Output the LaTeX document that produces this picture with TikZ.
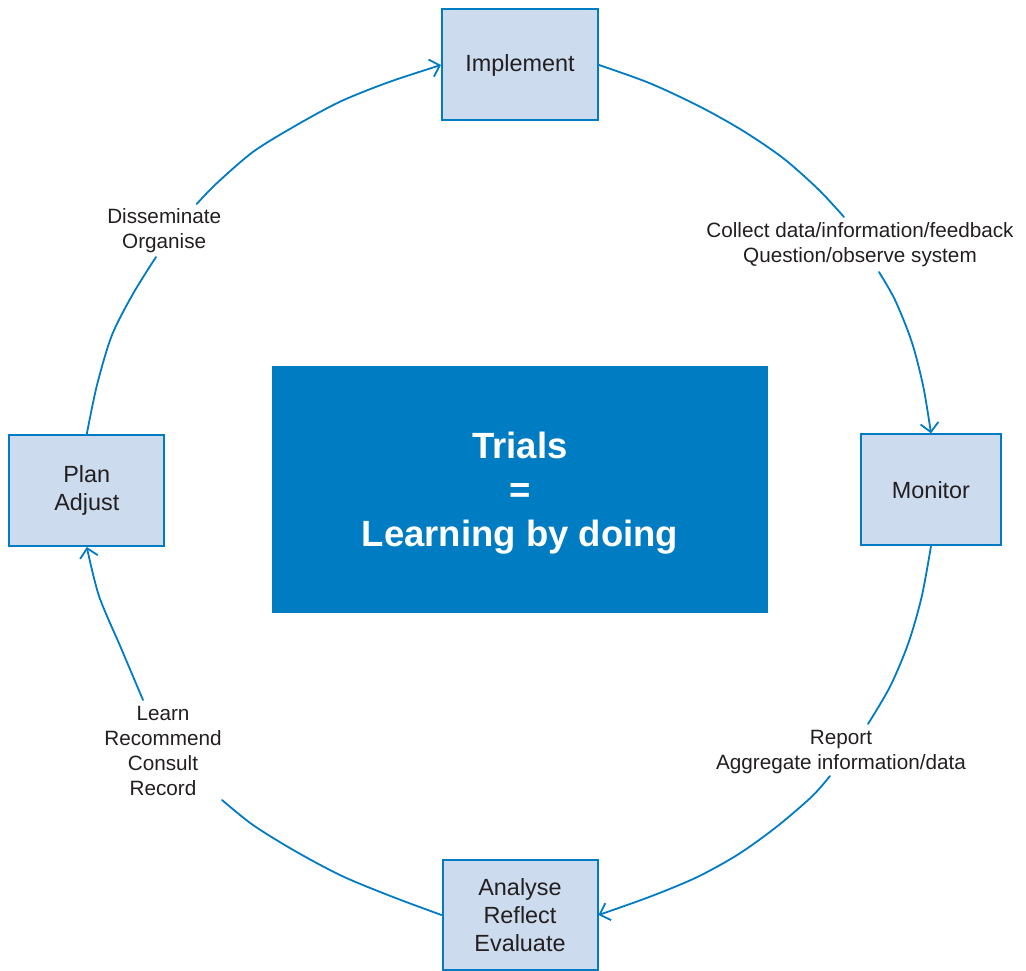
\documentclass[tikz,border=0pt]{standalone}
\usepackage{fontspec}
\setmainfont{Liberation Sans}
\usetikzlibrary{arrows.meta}
\definecolor{boxfill}{RGB}{204,219,237}
\definecolor{cycleblue}{RGB}{0,123,196}
\definecolor{corefill}{RGB}{0,124,194}
\definecolor{inktext}{RGB}{35,31,32}

\begin{document}
\begin{tikzpicture}[x=1pt,y=-1pt,
  stagebox/.style={draw=cycleblue, fill=boxfill, line width=2pt, inner sep=0pt,
    align=center, text=inktext, font=\fontsize{23.4}{28}\selectfont},
  corebox/.style={fill=corefill, inner sep=0pt, align=center, text=white,
    font=\bfseries\fontsize{36.5}{44}\selectfont, text depth=0pt,
    minimum width=496pt, minimum height=247pt},
  steplabel/.style={align=center, text=inktext, inner sep=0pt,
    font=\fontsize{20.7}{25}\selectfont},
  flow/.style={draw=cycleblue, line width=1.8pt, line join=round, line cap=round},
  flowarrow/.style={flow, -{Straight Barb[length=9pt,width=18pt]}}
]
\useasboundingbox (0,0) rectangle (1026,971);

% stages of the cycle
\node[stagebox, minimum width=156pt, minimum height=111pt] (impl) at (520,65) {Implement};
\node[stagebox, minimum width=140.6pt, minimum height=110.7pt] (mon) at (931,489.7) {Monitor};
\node[stagebox, minimum width=155pt, minimum height=110pt] (ana) at (520,915) {Analyse\\Reflect\\Evaluate};
\node[stagebox, minimum width=155pt, minimum height=111pt] (plan) at (86.8,490.5) {Plan\\Adjust};

% centre panel
\node[corebox] (core) at (520,489.5) {Trials\\=\\Learning by doing};

% activities between stages
\node[steplabel] (lbl1) at (860,245) {Collect data/information/feedback\\Question/observe system};
\node[steplabel] (lbl2) at (841,752) {Report\\Aggregate information/data};
\node[steplabel] (lbl3) at (163,751) {Learn\\Recommend\\Consult\\Record};
\node[steplabel] (lbl4) at (164.2,231) {Disseminate\\Organise};

% ends of the arcs on either side of each activity label
\coordinate (g1a) at (844,217);
\coordinate (g1b) at (879,272);
\coordinate (g2a) at (868,724);
\coordinate (g2b) at (830,776);
\coordinate (g3a) at (222,800);
\coordinate (g3b) at (143,700);
\coordinate (g4a) at (156,257);
\coordinate (g4b) at (196.7,204);

% Implement -> Monitor
\draw[flow] plot[smooth] coordinates {(impl.east) (650,83.3) (700,106.7) (743.3,131) (783.3,158.3) (818.3,189.3) (g1a)};
\draw[flowarrow] plot[smooth] coordinates {(g1b) (895,300) (911.7,341.7) (923.3,386.7) (mon.north)};

% Monitor -> Analyse
\draw[flow] plot[smooth] coordinates {(mon.south) (921.7,596.7) (908.3,643.3) (890,686.7) (g2a)};
\draw[flowarrow] plot[smooth] coordinates {(g2b) (811.7,796.7) (776.7,826.7) (738.3,854.3) (696.7,877.3) (650,896.7) (ana.east)};

% Analyse -> Plan
\draw[flow] plot[smooth] coordinates {(ana.west) (393,897) (342,876) (295,851) (253,825) (g3a)};
\draw[flowarrow] plot[smooth] coordinates {(g3b) (121,648) (99,596) (plan.south)};

% Plan -> Implement
\draw[flow] plot[smooth] coordinates {(plan.north) (97,385) (112,335) (133.3,293.3) (g4a)};
\draw[flowarrow] plot[smooth] coordinates {(g4b) (216.7,183.3) (253.3,151.7) (295,126) (340,101.7) (388.3,82.3) (impl.west)};
\end{tikzpicture}
\end{document}
